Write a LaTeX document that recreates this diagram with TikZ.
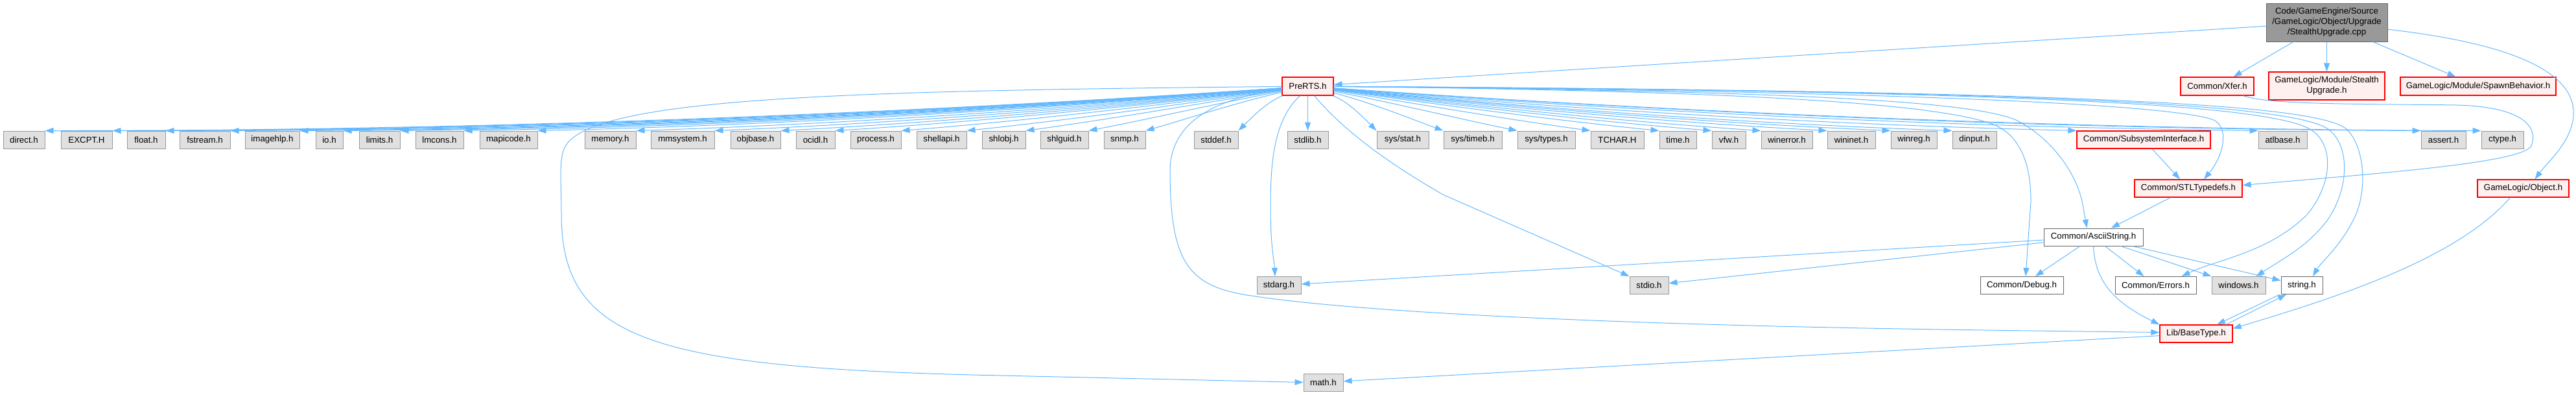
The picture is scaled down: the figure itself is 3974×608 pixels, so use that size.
\documentclass[tikz,border=0pt]{standalone}
\usepackage{fontspec}
\setmainfont{Liberation Sans}
\usetikzlibrary{arrows.meta,calc}
\definecolor{edgec}{HTML}{63B8FF}
\definecolor{redb}{HTML}{FF0000}
\definecolor{redf}{HTML}{FFF0F0}
\definecolor{grayf}{HTML}{E0E0E0}
\definecolor{grayb}{HTML}{999999}
\definecolor{darkb}{HTML}{666666}
\begin{document}
\begin{tikzpicture}[x=1pt,y=-1pt,
  box/.style={draw, inner sep=0pt, minimum height=27pt, font=\fontsize{13.3}{16}\selectfont, align=center, line width=1pt},
  sysnode/.style={box, fill=grayf, draw=grayb},
  rednode/.style={box, fill=redf, draw=redb, line width=1.2pt},
  docnode/.style={box, fill=white, draw=darkb},
  mainnode/.style={box, fill=grayb, draw=darkb},
  link/.style={draw=edgec, line width=1pt, -{Triangle[length=13pt,width=9pt]}}]
\useasboundingbox (0,0) rectangle (3974,608);
% top
\node[mainnode, minimum width=187pt, minimum height=59pt] (main) at (3589.5,34.5) {Code/GameEngine/Source\\/GameLogic/Object/Upgrade\\/StealthUpgrade.cpp};
% second row
\node[rednode, minimum width=79pt, minimum height=28pt] (pre) at (2017.5,133) {PreRTS.h};
\node[rednode, minimum width=113pt, minimum height=28pt] (xfer) at (3420.5,133) {Common/Xfer.h};
\node[rednode, minimum width=179pt, minimum height=43pt] (stealth) at (3589.5,132.5) {GameLogic/Module/Stealth\\Upgrade.h};
\node[rednode, minimum width=240pt, minimum height=28pt] (spawn) at (3823,133) {GameLogic/Module/SpawnBehavior.h};
% header row
\node[sysnode, minimum width=64pt] (direct) at (37,215.5) {direct.h};
\node[sysnode, minimum width=79pt] (excpt) at (133.5,215.5) {EXCPT.H};
\node[sysnode, minimum width=59pt] (float) at (225.5,215.5) {float.h};
\node[sysnode, minimum width=78pt] (fstream) at (316,215.5) {fstream.h};
\node[sysnode, minimum width=84pt] (imagehlp) at (420,215.5) {imagehlp.h};
\node[sysnode, minimum width=42pt] (io) at (508,215.5) {io.h};
\node[sysnode, minimum width=63pt] (limits) at (585.5,215.5) {limits.h};
\node[sysnode, minimum width=74pt] (lmcons) at (678,215.5) {lmcons.h};
\node[sysnode, minimum width=89pt] (mapicode) at (784.5,215.5) {mapicode.h};
\node[sysnode, minimum width=79pt] (memory) at (941.5,215.5) {memory.h};
\node[sysnode, minimum width=98pt] (mmsystem) at (1053,215.5) {mmsystem.h};
\node[sysnode, minimum width=77pt] (objbase) at (1165.5,215.5) {objbase.h};
\node[sysnode, minimum width=60pt] (ocidl) at (1258,215.5) {ocidl.h};
\node[sysnode, minimum width=78pt] (process) at (1351,215.5) {process.h};
\node[sysnode, minimum width=77pt] (shellapi) at (1452.5,215.5) {shellapi.h};
\node[sysnode, minimum width=67pt] (shlobj) at (1548.5,215.5) {shlobj.h};
\node[sysnode, minimum width=74pt] (shlguid) at (1642,215.5) {shlguid.h};
\node[sysnode, minimum width=64pt] (snmp) at (1735,215.5) {snmp.h};
\node[sysnode, minimum width=68pt] (stddef) at (1876,215.5) {stddef.h};
\node[sysnode, minimum width=63pt] (stdlib) at (2017.5,215.5) {stdlib.h};
\node[sysnode, minimum width=80pt] (sysstat) at (2164,215.5) {sys/stat.h};
\node[sysnode, minimum width=90pt] (systimeb) at (2272,215.5) {sys/timeb.h};
\node[sysnode, minimum width=89pt] (systypes) at (2385.5,215.5) {sys/types.h};
\node[sysnode, minimum width=82pt] (tchar) at (2495,215.5) {TCHAR.H};
\node[sysnode, minimum width=57pt] (time) at (2588.5,215.5) {time.h};
\node[sysnode, minimum width=52pt] (vfw) at (2667,215.5) {vfw.h};
\node[sysnode, minimum width=79pt] (winerror) at (2756.5,215.5) {winerror.h};
\node[sysnode, minimum width=74pt] (wininet) at (2856,215.5) {wininet.h};
\node[sysnode, minimum width=71pt] (winreg) at (2952.5,215.5) {winreg.h};
\node[sysnode, minimum width=68pt] (dinput) at (3046,215.5) {dinput.h};
\node[rednode, minimum width=206pt] (subsys) at (3307,215.5) {Common/SubsystemInterface.h};
\node[sysnode, minimum width=75pt] (atlbase) at (3521.5,215.5) {atlbase.h};
\node[sysnode, minimum width=69pt] (assert) at (3769.5,215.5) {assert.h};
\node[sysnode, minimum width=65pt] (ctype) at (3860.5,215.5) {ctype.h};
% lower rows
\node[rednode, minimum width=166pt] (stl) at (3376,290.5) {Common/STLTypedefs.h};
\node[rednode, minimum width=141pt] (object) at (3892.5,290.5) {GameLogic/Object.h};
\node[docnode, minimum width=153pt] (ascii) at (3229.5,365.5) {Common/AsciiString.h};
\node[sysnode, minimum width=68pt] (stdarg) at (1973,440) {stdarg.h};
\node[sysnode, minimum width=60pt] (stdio) at (2544,440) {stdio.h};
\node[docnode, minimum width=128pt] (debug) at (3119,440) {Common/Debug.h};
\node[docnode, minimum width=125pt] (errors) at (3325.5,440) {Common/Errors.h};
\node[sysnode, minimum width=83pt] (windows) at (3453.5,440) {windows.h};
\node[docnode, minimum width=64pt] (string) at (3551,440) {string.h};
\node[rednode, minimum width=112pt] (basetype) at (3388,514.5) {Lib/BaseType.h};
\node[sysnode, minimum width=61pt] (math) at (2041.5,589.5) {math.h};

% edges from main
\draw[link] (main) -- (pre);
\draw[link] (main) -- (xfer);
\draw[link] (main.south) -- (stealth.north);
\draw[link] (main) -- (spawn);
\draw[link] (main) .. controls (3900,70) and (3975,120) .. (3970,180) .. controls (3966,220) and (3930,250) .. ([xshift=18pt]object.north);

% PreRTS to header row, left side
\foreach \t in {direct,excpt,float,fstream,imagehlp,io,limits,lmcons,mapicode,memory,mmsystem,objbase,ocidl,process,shellapi,shlobj,shlguid,snmp,stddef}
  \draw[link] let \p1=(\t.north east), \n1={0.012*(1978-\x1)} in
    (pre) .. controls ($(pre.west)!0.33!(\p1)+(0,-\n1)$) and ($(pre.west)!0.67!(\p1)+(0,-\n1)$) .. (\p1);
\draw[link] (pre) -- (stdlib);
\foreach \t in {sysstat,systimeb,systypes,tchar,time,vfw,winerror,wininet,winreg,dinput,subsys,atlbase,assert,ctype}
  \draw[link] let \p1=(\t.north west), \n1={0.012*(\x1-2057)} in
    (pre) .. controls ($(pre.east)!0.33!(\p1)+(0,-\n1)$) and ($(pre.east)!0.67!(\p1)+(0,-\n1)$) .. (\p1);

% PreRTS long curves
\draw[link] (pre) .. controls (1300,140) and (900,150) .. (870,230) .. controls (862,252) and (866,280) .. (866,330) .. controls (866,520) and (1000,565) .. (1500,578) -- (math.west);
\draw[link] (pre) .. controls (1900,148) and (1808,175) .. (1805,260) .. controls (1805,400) and (1830,440) .. (1924,455) .. controls (2050,475) and (2300,490) .. (2629,500) .. controls (2900,508) and (3150,510) .. ([yshift=2pt]basetype.west);
\draw[link] ([xshift=-12pt]pre.south) .. controls (1965,185) and (1960,250) .. (1960,320) .. controls (1960,380) and (1966,405) .. ([xshift=-6pt]stdarg.north);
\draw[link] ([xshift=10pt]pre.south) .. controls (2080,210) and (2160,262) .. (2226,300) -- (stdio.north west);
\draw[link] (pre) .. controls (2700,140) and (2980,160) .. (3070,190) .. controls (3115,205) and (3133,250) .. (3133,310) -- ([xshift=6pt]debug.north);
\draw[link] (pre) .. controls (2750,140) and (3040,155) .. (3110,185) .. controls (3160,210) and (3200,260) .. (3212,310) -- ([xshift=-10pt]ascii.north);
\draw[link] (pre) .. controls (2900,140) and (3350,160) .. (3415,185) .. controls (3440,197) and (3430,240) .. ([xshift=24pt]stl.north);
\draw[link] (pre) .. controls (3100,140) and (3500,160) .. (3565,200) .. controls (3600,222) and (3600,280) .. (3560,330) .. controls (3500,390) and (3420,400) .. ([xshift=40pt]errors.north);
\draw[link] (pre) .. controls (3150,140) and (3540,160) .. (3593,200) .. controls (3625,225) and (3625,290) .. (3590,340) .. controls (3560,380) and (3520,400) .. ([xshift=27pt]windows.north);
\draw[link] (pre) .. controls (3200,140) and (3580,160) .. (3621,200) .. controls (3650,230) and (3652,300) .. (3630,340) .. controls (3610,380) and (3580,405) .. ([xshift=17pt]string.north);

% other edges
\draw[link] ([xshift=40pt]xfer.south) .. controls (3500,162) and (3650,160) .. (3790,162) .. controls (3900,165) and (3915,200) .. (3905,225) .. controls (3890,250) and (3700,265) .. ([yshift=5pt]stl.east);
\draw[link] (subsys) -- (stl);
\draw[link] (stl) -- (ascii);
\draw[link] (ascii) -- (debug);
\draw[link] (ascii) -- (errors);
\draw[link] (ascii) -- (windows);
\draw[link] (ascii) -- (string);
\draw[link] (ascii) -- (stdarg);
\draw[link] (ascii) -- (stdio);
\draw[link] (ascii.south) .. controls (3232,440) and (3270,470) .. (basetype.north west);
\draw[link] ([xshift=-34pt]string.south) -- ([xshift=32pt]basetype.north);
\draw[link] ([xshift=46pt]basetype.north) -- ([xshift=-24pt]string.south);
\draw[link] ([xshift=-20pt]object.south) .. controls (3790,400) and (3600,460) .. ([yshift=8pt]basetype.east);
\draw[link] (basetype) -- (math);
\end{tikzpicture}
\end{document}
